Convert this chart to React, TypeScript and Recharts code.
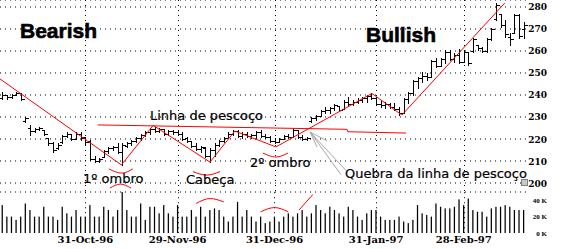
import { ComposedChart, Bar, Line, XAxis, YAxis, CartesianGrid } from "recharts";

// Daily bars, one per trading session from early Oct-96 to mid Mar-97: [open, high, low, close]
const OHLC: [number, number, number, number][] = [
  [238.5, 241.5, 238, 240], [240, 240, 238, 239], [239, 240.5, 238.5, 240], [240, 241.5, 240, 241],
  [241, 241, 237.5, 238], [228, 230, 227.5, 229.5], [225, 226.5, 222, 223.5], [223.5, 225, 223, 224.5],
  [224.5, 225.5, 224, 225], [224, 224, 222, 222.5], [220.5, 220.5, 217.5, 218], [218, 218.5, 214, 215],
  [216, 218, 215.5, 217.5], [218.5, 222, 218, 221.5], [221.5, 223, 221, 222.5], [222.5, 222.5, 219.5, 220],
  [220, 223, 220, 222.5], [222.5, 223, 219.5, 220.5], [221, 221, 217.5, 218.5], [219, 219.5, 210.5, 211],
  [211, 212.3, 209.5, 210], [210, 211.5, 209.5, 211], [212, 215, 212, 214.5], [214.5, 216.5, 213.5, 216],
  [216, 217, 215, 216.5], [216.5, 218, 213.5, 214], [214, 218, 208.2, 217.5], [217, 218.5, 216.5, 218],
  [218, 219.5, 217.5, 219], [219, 221, 218.5, 220.5], [220.5, 222.5, 219.5, 222], [222, 223.5, 221.5, 223],
  [223, 225, 222.5, 224.5], [224.5, 225.5, 223, 223.5], [223.5, 225, 223, 224.5], [224.5, 224.5, 222, 222.5],
  [222.5, 224, 222, 223.5], [223.5, 224, 222.5, 223], [223, 223.5, 222, 222.5], [222.5, 223, 219.5, 220],
  [220.5, 221, 218.5, 219], [219, 219, 216.5, 217], [217, 218, 215, 215.5], [215.5, 217, 214, 216.5],
  [216, 216.5, 212, 212.5], [212.5, 216, 209.5, 215], [215, 218, 212.5, 217.5], [217.5, 219.5, 217, 219],
  [219, 221, 218.5, 220.5], [220.5, 223, 220.5, 222.5], [222.5, 224, 222, 223.5], [223.5, 224, 221, 221.5],
  [221.5, 223, 220.5, 222.5], [222.5, 223, 221, 221.5], [221.5, 222.5, 220.5, 222], [222, 223.5, 220.5, 223],
  [223, 224, 221, 221.5], [221.5, 222.5, 220.5, 221], [221, 221.5, 218.5, 219], [219, 220.5, 218, 218.5],
  [218.5, 220.5, 218.5, 220], [220, 222, 220, 221.5], [221.5, 222.5, 220.5, 221], [221, 225, 221, 224],
  [224, 224, 220.5, 221], [221, 222, 219.5, 220], [220, 221, 219.5, 220.5], [228, 230, 227.5, 229.5],
  [229.5, 231, 228.5, 230.5], [230.5, 233, 230.5, 232.5], [232.5, 234.5, 232, 233], [233, 234.5, 232, 234],
  [234, 236, 233, 235.5], [235, 235, 232.5, 233], [233.5, 237.5, 233.5, 237], [237, 239, 235.5, 236],
  [236, 237.5, 235.5, 237], [237, 238.5, 236.5, 237.5], [237.5, 239, 237, 238.5], [238.5, 240, 237, 239.5],
  [239.5, 241, 238, 238.5], [238.5, 239, 235.5, 236], [236, 237.5, 234.5, 235.5], [235.5, 237, 234, 236],
  [236, 236.5, 234, 234.5], [234.5, 236.5, 233, 233.5], [233.5, 234.5, 231, 232], [232, 238.5, 232, 238],
  [238, 241.5, 236.5, 241], [241, 247, 240, 246.5], [246.5, 248, 243, 247.5], [247.5, 250.5, 246, 248.5],
  [248.5, 250, 247, 248], [248, 256, 248, 255.5], [255.5, 257, 252.5, 253], [253, 257, 253, 256.5],
  [256.5, 260.5, 254.5, 259.5], [259.5, 260.5, 256, 256.5], [256.5, 259, 255, 258], [258, 261, 254.5, 255],
  [255, 260.5, 255, 259.5], [259.5, 259.5, 253.5, 254.5], [260, 266, 259.5, 265.5], [262.5, 262.5, 260.5, 261.5],
  [261.5, 262, 259.5, 260], [260, 266, 259.5, 265.5], [265.5, 270.5, 265, 270], [274.5, 282, 274, 281],
  [277, 277, 271, 272], [272, 274, 266.5, 267.5], [266.5, 268, 262.5, 265.5], [268, 277, 268, 276.5],
  [276.5, 277, 266, 267], [270, 273, 266, 272],
];

// volume in thousands
const VOLUME_K = [
  34, 20, 20, 16, 20, 36, 28, 20, 20, 32, 20, 20, 16, 32, 24, 20, 28, 20, 20, 34,
  20, 20, 32, 28, 20, 28, 50, 28, 20, 20, 36, 16, 32, 32, 24, 34, 24, 20, 34, 20,
  20, 28, 20, 32, 20, 28, 30, 28, 20, 14, 20, 38, 20, 28, 20, 14, 20, 12, 14, 20,
  14, 20, 24, 20, 24, 28, 20, 24, 34, 28, 24, 32, 28, 24, 20, 32, 28, 20, 16, 24,
  28, 28, 20, 16, 16, 16, 20, 14, 12, 16, 34, 24, 22, 20, 36, 32, 30, 30, 32, 41,
  34, 42, 28, 26, 26, 20, 30, 32, 32, 34, 32, 28, 28, 28,
];

// month-end sessions and their labels
const MONTH_TICKS = [18, 38, 59, 81, 100];
const MONTH_LABELS = ["31-Oct-96", "29-Nov-96", "31-Dec-96", "31-Jan-97", "28-Feb-97"];
const PRICE_TICKS = [200, 210, 220, 230, 240, 250, 260, 270, 280];
const VOLUME_TICKS = [0, 20, 40];

// hand-drawn annotations, in (session index, price) terms
const TREND = [
  { i: -0.5, y: 247.3 }, { i: 25.8, y: 208.2 }, { i: 32.7, y: 226.2 }, { i: 45, y: 209.5 },
  { i: 50.4, y: 223.6 }, { i: 59.3, y: 216.4 }, { i: 80.1, y: 240.7 }, { i: 86.6, y: 230.9 },
  { i: 108.9, y: 281.8 },
];
const NECKLINE = [
  { i: 20.7, y: 226.4 }, { i: 74.7, y: 224.4 }, { i: 74.9, y: 223.3 }, { i: 87.5, y: 222.7 },
];
const BREAK_ARROW = [
  [{ i: 66.7, y: 223.2 }, { i: 74.7, y: 205.2 }],
  [{ i: 66.7, y: 223.2 }, { i: 73.4, y: 203.8 }],
  [{ i: 66.7, y: 223.2 }, { i: 70.4, y: 219.1 }],
  [{ i: 66.7, y: 223.2 }, { i: 68.2, y: 216.4 }],
];
const PRICE_ARCS = [
  [{ i: 23.1, y: 206.4 }, { i: 25.9, y: 204.5 }, { i: 28.3, y: 206.4 }],
  [{ i: 23.3, y: 197.7 }, { i: 25.6, y: 199.5 }, { i: 27.9, y: 197.7 }],
  [{ i: 41.3, y: 205.2 }, { i: 44.3, y: 203.6 }, { i: 47.2, y: 205.2 }],
  [{ i: 56.5, y: 213.6 }, { i: 59.3, y: 211.8 }, { i: 61.9, y: 213.6 }],
];
const VOLUME_ARCS = [
  [{ i: 42, y: 36 }, { i: 45, y: 42 }, { i: 48, y: 38 }],
  [{ i: 56, y: 25.8 }, { i: 59, y: 31 }, { i: 62, y: 25.8 }],
  [{ i: 64.3, y: 27.9 }, { i: 67.3, y: 47 }],
];

const rows = OHLC.map(([o, h, l, c], i) => ({ i, o, h, l, c, range: [l, h], v: VOLUME_K[i] }));

const X_DOMAIN: [number, number] = [-0.5, OHLC.length - 0.5];
const PRICE_DOMAIN: [number, number] = [195.91, 283.18];
const VOLUME_DOMAIN: [number, number] = [0, 49.7];
const RED = "#ff0000";
const GRAY = "#a8a8a8";
const SERIF = "'DejaVu Serif', 'Liberation Serif', serif";
const SANS = "'DejaVu Sans', sans-serif";

const isMonthEnd = (i: number) => MONTH_TICKS.includes(i);

// OHLC bar; on month-end sessions it also draws the dotted vertical through the pane,
// stretched from the bar's own pixels-per-point to the full price domain
function OhlcBar(props: any) {
  const { x, y, width, height, payload } = props;
  if (x == null || y == null) return null;
  const top = Math.min(y, y + height);
  const h = Math.abs(height);
  const cx = Math.round(x + width / 2) + 0.5;
  const span = payload.h - payload.l || 1;
  const ppu = h / span;
  const yo = Math.round(top + (payload.h - payload.o) * ppu) + 0.5;
  const yc = Math.round(top + (payload.h - payload.c) * ppu) + 0.5;
  const gridTop = top - (PRICE_DOMAIN[1] - payload.h) * ppu;
  const gridBottom = top + h + (payload.l - PRICE_DOMAIN[0]) * ppu;
  return (
    <g>
      {isMonthEnd(payload.i) && (
        <line x1={cx} x2={cx} y1={gridTop} y2={gridBottom} stroke="#000" strokeWidth={1} strokeDasharray="1 4" />
      )}
      <g stroke="#000" strokeWidth={1} shapeRendering="crispEdges">
        <line x1={cx} x2={cx} y1={Math.round(top)} y2={Math.round(top + h) + 1} />
        <line x1={cx - 3} x2={cx} y1={yo} y2={yo} />
        <line x1={cx} x2={cx + 3} y1={yc} y2={yc} />
      </g>
    </g>
  );
}

function VolumeBar(props: any) {
  const { x, y, width, height, payload } = props;
  if (x == null || y == null) return null;
  const cx = Math.round(x + width / 2) + 0.5;
  const ppu = payload.v ? height / payload.v : 0;
  const gridTop = y - (VOLUME_DOMAIN[1] - payload.v) * ppu;
  return (
    <g>
      {isMonthEnd(payload.i) && (
        <line x1={cx} x2={cx} y1={gridTop} y2={y + height} stroke="#000" strokeWidth={1} strokeDasharray="1 4" />
      )}
      <rect x={x} y={y} width={width} height={height} fill="#000" />
    </g>
  );
}

function PriceTick({ x, y, payload }: any) {
  return (
    <text x={x + 21} y={y} dy={3.5} textAnchor="end" fontFamily={SERIF} fontWeight="bold" fontSize={9} fill="#000">
      {payload.value}
    </text>
  );
}

function VolumeTick({ x, y, payload }: any) {
  return (
    <text x={x + 21} y={y} dy={2.5} textAnchor="end" fontFamily="'Liberation Serif', serif" fontWeight="bold" fontSize={7} fill="#000">
      {payload.value} K
    </text>
  );
}

function DateTick({ x, y, payload }: any) {
  const k = MONTH_TICKS.indexOf(payload.value);
  return (
    <text x={x} y={y + 3} dy="0.71em" textAnchor="middle" fontFamily={SERIF} fontWeight="bold" fontSize={10} fill="#000">
      {MONTH_LABELS[k]}
    </text>
  );
}

// the price pane's x axis carries no labels; the volume pane below has them
function NoTick() {
  return <g />;
}

export default function App() {
  return (
    <div style={{ position: "absolute", left: 0, top: 0, width: 565, height: 249, background: "#fff" }}>
      <div style={{ position: "absolute", left: 0, top: 0 }}>
        <ComposedChart width={565} height={193} data={rows} margin={{ top: 0, right: 0, bottom: 0, left: 0 }}>
          <CartesianGrid vertical={false} stroke="#000" strokeDasharray="1 4" />
          <XAxis
            type="number"
            dataKey="i"
            domain={X_DOMAIN}
            ticks={MONTH_TICKS}
            height={1}
            axisLine={false}
            tickLine={false}
            tick={<NoTick />}
          />
          <YAxis
            orientation="right"
            domain={PRICE_DOMAIN}
            ticks={PRICE_TICKS}
            interval={0}
            width={39}
            axisLine={false}
            tickLine={false}
            tickSize={0}
            tickMargin={0}
            tick={<PriceTick />}
          />
          <Bar dataKey="range" barSize={5} shape={<OhlcBar />} isAnimationActive={false} />
          <Line data={TREND} dataKey="y" stroke={RED} strokeWidth={1} dot={false} isAnimationActive={false} />
          <Line data={NECKLINE} dataKey="y" stroke={RED} strokeWidth={1} dot={false} isAnimationActive={false} />
          {PRICE_ARCS.map((arc, k) => (
            <Line key={k} data={arc} dataKey="y" type="monotone" stroke={RED} strokeWidth={1} dot={false} isAnimationActive={false} />
          ))}
          {BREAK_ARROW.map((seg, k) => (
            <Line key={`a${k}`} data={seg} dataKey="y" stroke={GRAY} strokeWidth={1} dot={false} isAnimationActive={false} />
          ))}
        </ComposedChart>
      </div>
      <div style={{ position: "absolute", left: 0, top: 192 }}>
        <ComposedChart width={565} height={57} data={rows} margin={{ top: 0, right: 0, bottom: 0, left: 0 }}>
          <XAxis
            type="number"
            dataKey="i"
            domain={X_DOMAIN}
            ticks={MONTH_TICKS}
            height={16}
            axisLine={false}
            tickLine={false}
            tickSize={0}
            tickMargin={0}
            tick={<DateTick />}
          />
          <YAxis
            orientation="right"
            domain={VOLUME_DOMAIN}
            ticks={VOLUME_TICKS}
            interval={0}
            width={39}
            axisLine={false}
            tickLine={false}
            tickSize={0}
            tickMargin={0}
            tick={<VolumeTick />}
          />
          <Bar dataKey="v" barSize={2} shape={<VolumeBar />} isAnimationActive={false} />
          {VOLUME_ARCS.map((arc, k) => (
            <Line key={k} data={arc} dataKey="y" type="monotone" stroke={RED} strokeWidth={1} dot={false} isAnimationActive={false} />
          ))}
        </ComposedChart>
      </div>
      <svg width={565} height={249} style={{ position: "absolute", left: 0, top: 0, pointerEvents: "none" }}>
        <text x={20} y={38} fontFamily="'Liberation Sans', Arial, sans-serif" fontWeight="bold" fontSize={21} fill="#000" stroke="#000" strokeWidth={0.6}>Bearish</text>
        <text x={366} y={42} fontFamily="'Liberation Sans', Arial, sans-serif" fontWeight="bold" fontSize={21} fill="#000" stroke="#000" strokeWidth={0.6}>Bullish</text>
        <g fontFamily={SANS} fontSize={13} fill="#000" stroke="#000" strokeWidth={0.2}>
          <text x={150} y={120}>Linha de pescoço</text>
          <text x={83} y={183}>1º ombro</text>
          <text x={186} y={184}>Cabeça</text>
          <text x={250} y={167}>2º ombro</text>
          <text x={345} y={178}>Quebra da linha de pescoço</text>
        </g>
        <rect x={521.5} y={179.5} width={6} height={6} fill="#c8c8c8" stroke="#808080" />
      </svg>
    </div>
  );
}
